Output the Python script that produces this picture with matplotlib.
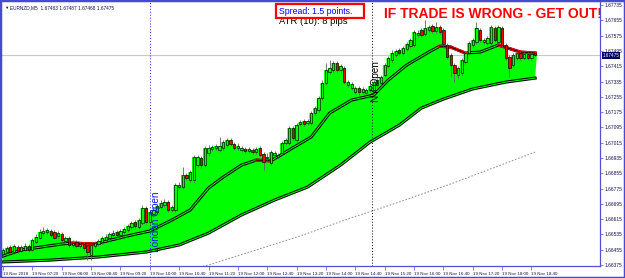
"""
EURNZD M5 chart with MA channel fill, session lines and notes.
"""

import matplotlib.pyplot as plt
import numpy as np
from matplotlib.patches import Rectangle

plt.rcParams['font.family'] = ['Liberation Sans', 'DejaVu Sans']

# Candle data (M5 bars from 06:40 to 18:45)
# ----------------------------------------------------------------------------

opens = [
    1.66433, 1.66443, 1.66469, 1.66443, 1.66469, 1.66448, 1.66454, 1.66474, 1.66454, 1.66495,
    1.66516, 1.66542, 1.66548, 1.66553, 1.66548, 1.66527, 1.66537, 1.66501, 1.66516, 1.66480,
    1.66495, 1.66474, 1.66485, 1.66480, 1.66427, 1.66474, 1.66485, 1.66495, 1.66506, 1.66516,
    1.66532, 1.66548, 1.66532, 1.66548, 1.66558, 1.66574, 1.66600, 1.66574, 1.66595, 1.66673,
    1.66600, 1.66642, 1.66652, 1.66678, 1.66689, 1.66705, 1.66663, 1.66663, 1.66783, 1.66783,
    1.66846, 1.66820, 1.66820, 1.66898, 1.66935, 1.66898, 1.66961, 1.66982, 1.66987, 1.66977,
    1.66987, 1.67003, 1.67029, 1.67008, 1.66987, 1.66977, 1.66982, 1.66971, 1.66977, 1.66966,
    1.66987, 1.66956, 1.66935, 1.66909, 1.66950, 1.66940, 1.66961, 1.67013, 1.67013, 1.67092,
    1.67029, 1.67112, 1.67128, 1.67118, 1.67118, 1.67170, 1.67186, 1.67248, 1.67327, 1.67384,
    1.67395, 1.67432, 1.67395, 1.67405, 1.67316, 1.67301, 1.67280, 1.67301, 1.67280, 1.67275,
    1.67290, 1.67290, 1.67316, 1.67327, 1.67369, 1.67416, 1.67447, 1.67473, 1.67500, 1.67484,
    1.67505, 1.67520, 1.67526, 1.67578, 1.67604, 1.67583, 1.67604, 1.67625, 1.67599, 1.67620,
    1.67604, 1.67526, 1.67473, 1.67421, 1.67369, 1.67379, 1.67437, 1.67484, 1.67526, 1.67541,
    1.67604, 1.67541, 1.67536, 1.67536, 1.67615, 1.67541, 1.67615, 1.67526, 1.67463, 1.67421,
    1.67458, 1.67484, 1.67458, 1.67479, 1.67458, 1.67483]

highs = [
    1.66464, 1.66474, 1.66480, 1.66485, 1.66480, 1.66480, 1.66490, 1.66485, 1.66516, 1.66537,
    1.66563, 1.66574, 1.66569, 1.66563, 1.66558, 1.66553, 1.66548, 1.66527, 1.66527, 1.66506,
    1.66506, 1.66495, 1.66495, 1.66490, 1.66490, 1.66501, 1.66511, 1.66527, 1.66537, 1.66548,
    1.66558, 1.66558, 1.66563, 1.66574, 1.66589, 1.66605, 1.66610, 1.66621, 1.66689, 1.66684,
    1.66663, 1.66678, 1.66694, 1.66715, 1.66720, 1.66715, 1.66689, 1.66804, 1.66809, 1.66888,
    1.66856, 1.66872, 1.66950, 1.66950, 1.66945, 1.66997, 1.67003, 1.67003, 1.67008, 1.67045,
    1.67029, 1.67039, 1.67039, 1.67018, 1.67013, 1.66997, 1.66992, 1.66992, 1.66987, 1.66992,
    1.66997, 1.66966, 1.66961, 1.66977, 1.66971, 1.66961, 1.67024, 1.67039, 1.67102, 1.67102,
    1.67118, 1.67133, 1.67139, 1.67139, 1.67180, 1.67207, 1.67259, 1.67343, 1.67432, 1.67447,
    1.67442, 1.67442, 1.67426, 1.67416, 1.67343, 1.67332, 1.67311, 1.67311, 1.67306, 1.67301,
    1.67322, 1.67343, 1.67353, 1.67369, 1.67432, 1.67468, 1.67500, 1.67505, 1.67510, 1.67520,
    1.67541, 1.67562, 1.67604, 1.67604, 1.67615, 1.67656, 1.67630, 1.67635, 1.67646, 1.67630,
    1.67615, 1.67536, 1.67484, 1.67432, 1.67416, 1.67458, 1.67494, 1.67547, 1.67562, 1.67646,
    1.67615, 1.67562, 1.67573, 1.67630, 1.67625, 1.67630, 1.67625, 1.67536, 1.67473, 1.67484,
    1.67494, 1.67494, 1.67489, 1.67489, 1.67489, 1.67487]

lows = [
    1.66422, 1.66438, 1.66433, 1.66438, 1.66438, 1.66443, 1.66448, 1.66443, 1.66448, 1.66490,
    1.66511, 1.66532, 1.66537, 1.66521, 1.66511, 1.66516, 1.66495, 1.66490, 1.66469, 1.66469,
    1.66464, 1.66464, 1.66454, 1.66401, 1.66401, 1.66464, 1.66474, 1.66485, 1.66501, 1.66506,
    1.66521, 1.66521, 1.66527, 1.66537, 1.66548, 1.66563, 1.66569, 1.66563, 1.66584, 1.66589,
    1.66589, 1.66631, 1.66642, 1.66668, 1.66678, 1.66652, 1.66652, 1.66652, 1.66773, 1.66773,
    1.66820, 1.66809, 1.66809, 1.66888, 1.66882, 1.66888, 1.66945, 1.66971, 1.66977, 1.66966,
    1.66977, 1.66992, 1.66997, 1.66977, 1.66977, 1.66966, 1.66961, 1.66961, 1.66956, 1.66956,
    1.66940, 1.66872, 1.66924, 1.66898, 1.66940, 1.66929, 1.66950, 1.67003, 1.67003, 1.67029,
    1.67018, 1.67102, 1.67102, 1.67107, 1.67107, 1.67160, 1.67175, 1.67238, 1.67316, 1.67374,
    1.67384, 1.67384, 1.67384, 1.67322, 1.67306, 1.67290, 1.67269, 1.67264, 1.67269, 1.67264,
    1.67280, 1.67280, 1.67306, 1.67316, 1.67358, 1.67405, 1.67437, 1.67463, 1.67473, 1.67473,
    1.67494, 1.67510, 1.67515, 1.67568, 1.67568, 1.67573, 1.67594, 1.67588, 1.67588, 1.67583,
    1.67520, 1.67452, 1.67358, 1.67332, 1.67353, 1.67369, 1.67426, 1.67473, 1.67515, 1.67531,
    1.67541, 1.67531, 1.67526, 1.67526, 1.67541, 1.67531, 1.67515, 1.67447, 1.67358, 1.67411,
    1.67447, 1.67447, 1.67447, 1.67447, 1.67447, 1.67468]

closes = [
    1.66454, 1.66464, 1.66443, 1.66474, 1.66448, 1.66469, 1.66474, 1.66454, 1.66506, 1.66521,
    1.66548, 1.66553, 1.66558, 1.66532, 1.66516, 1.66542, 1.66506, 1.66516, 1.66480, 1.66490,
    1.66474, 1.66485, 1.66464, 1.66443, 1.66480, 1.66490, 1.66501, 1.66516, 1.66521, 1.66537,
    1.66542, 1.66532, 1.66553, 1.66563, 1.66579, 1.66595, 1.66579, 1.66610, 1.66673, 1.66600,
    1.66652, 1.66663, 1.66684, 1.66699, 1.66705, 1.66663, 1.66678, 1.66793, 1.66793, 1.66846,
    1.66830, 1.66861, 1.66940, 1.66940, 1.66898, 1.66987, 1.66987, 1.66992, 1.66997, 1.66997,
    1.67018, 1.67029, 1.67008, 1.66987, 1.66997, 1.66987, 1.66971, 1.66982, 1.66966, 1.66982,
    1.66950, 1.66914, 1.66940, 1.66966, 1.66961, 1.66950, 1.67013, 1.67029, 1.67092, 1.67039,
    1.67107, 1.67123, 1.67112, 1.67128, 1.67170, 1.67196, 1.67248, 1.67327, 1.67395, 1.67405,
    1.67432, 1.67395, 1.67416, 1.67332, 1.67332, 1.67322, 1.67301, 1.67280, 1.67296, 1.67290,
    1.67311, 1.67332, 1.67343, 1.67358, 1.67421, 1.67458, 1.67484, 1.67494, 1.67484, 1.67510,
    1.67531, 1.67552, 1.67594, 1.67588, 1.67578, 1.67615, 1.67620, 1.67599, 1.67620, 1.67594,
    1.67531, 1.67463, 1.67421, 1.67379, 1.67405, 1.67447, 1.67484, 1.67536, 1.67552, 1.67615,
    1.67552, 1.67552, 1.67562, 1.67620, 1.67552, 1.67620, 1.67526, 1.67458, 1.67405, 1.67473,
    1.67484, 1.67458, 1.67479, 1.67458, 1.67479, 1.67475]

# Moving averages (bar index, price)
slow_ma_bar = [0, 13, 26, 39, 48, 56, 65, 74, 83, 92, 100, 108, 114, 120, 128, 137, 145]
slow_ma = [1.66391, 1.66401, 1.66417, 1.66443, 1.66480, 1.66542, 1.66637, 1.66715,
           1.66783, 1.66898, 1.67018, 1.67107, 1.67196, 1.67243, 1.67296, 1.67332, 1.67353]

fast_ma_bar = [0, 5, 16, 19, 25, 35, 40, 46, 51, 56, 60, 65, 69, 73, 78, 84, 89, 95,
               101, 105, 110, 116, 119, 122, 126, 130, 135, 141, 145]
fast_ma = [1.66422, 1.66454, 1.66485, 1.66490, 1.66485, 1.66532, 1.66553, 1.66610,
           1.66663, 1.66778, 1.66835, 1.66898, 1.66924, 1.66920, 1.66977, 1.67045,
           1.67170, 1.67238, 1.67264, 1.67343, 1.67421, 1.67489, 1.67520, 1.67515,
           1.67484, 1.67489, 1.67526, 1.67489, 1.67484]
# falling segments of the fast MA are drawn red
fast_ma_falling = [False, False, False, True, False, False, False, False, False, False,
                   False, False, True, False, False, False, False, False, False, False,
                   False, False, True, True, False, False, True, True]

long_ma_bar = [50, 56, 81, 94, 108, 122, 145]
long_ma = [1.66349, 1.66375, 1.66527, 1.66616, 1.66705, 1.66799, 1.66966]

session_bar = [40, 100.5]
session_name = ['London Open', 'NY Open']
bid_price = 1.67475

time_labels = ['19 Nov 2018', '19 Nov 07:20', '19 Nov 08:00', '19 Nov 08:40',
               '19 Nov 09:20', '19 Nov 10:00', '19 Nov 10:40', '19 Nov 11:20',
               '19 Nov 12:00', '19 Nov 12:40', '19 Nov 13:20', '19 Nov 14:00',
               '19 Nov 14:40', '19 Nov 15:20', '19 Nov 16:00', '19 Nov 16:40',
               '19 Nov 17:20', '19 Nov 18:00', '19 Nov 18:40']
price_ticks = [1.66375, 1.66455, 1.66535, 1.66615, 1.66695, 1.66775, 1.66855,
               1.66935, 1.67015, 1.67095, 1.67175, 1.67255, 1.67335, 1.67415,
               1.67495, 1.67575, 1.67655, 1.67735]

# Figure
# ----------------------------------------------------------------------------

W, H = 625, 278
frame = '#5050d0'
navy = '#10104a'


def px(x, y):
    return x / W, 1 - y / H


fig = plt.figure(figsize=(W / 100, H / 100), dpi=100)
ax = fig.add_axes([2 / W, 12 / H, 598 / W, 264 / H])
ax.set_xlim(-0.27, 162.67)
ax.set_ylim(1.66370, 1.67751)

bars = np.arange(len(opens))
o, h, l, c = (np.array(v) for v in (opens, highs, lows, closes))
top = np.maximum(o, c)

# green channel fill from body tops down to the slow MA
xs = np.repeat(bars, 2) + np.tile([-0.5, 0.5], len(bars))
ys = np.repeat(top, 2)
ax.fill(np.concatenate([xs, slow_ma_bar[::-1]]), np.concatenate([ys, slow_ma[::-1]]),
        color='#00ff00', lw=0, zorder=1)

ax.axhline(bid_price, color='#c8c8c8', lw=0.8, zorder=0.5)
ax.plot(long_ma_bar, long_ma, color='#9a9a9a', lw=0.8, ls=(0, (1.5, 1.5)), zorder=2)

ax.axvline(session_bar[0], color='#2020ff', lw=0.7, ls=(0, (1, 2)), zorder=2)
ax.axvline(session_bar[1], color='black', lw=0.7, ls=(0, (1, 2)), zorder=2)
ax.text(session_bar[0] + 1.6, 1.66444, session_name[0], rotation=90, color='#1010ff',
        fontsize=7.2, ha='center', va='bottom', zorder=6)
ax.text(session_bar[1] + 1.1, 1.67228, session_name[1], rotation=90, color='black',
        fontsize=7.2, ha='center', va='bottom', zorder=6)

# moving averages as double lines
ax.plot(slow_ma_bar, slow_ma, color='black', lw=2.2, zorder=3)
ax.plot(slow_ma_bar, slow_ma, color='#00ff00', lw=0.7, zorder=3.1)
ax.plot(fast_ma_bar, fast_ma, color='black', lw=2.2, zorder=3)
ax.plot(fast_ma_bar, fast_ma, color='#00ff00', lw=0.7, zorder=3.1)
for k, falling in enumerate(fast_ma_falling):
    if falling:
        ax.plot(fast_ma_bar[k:k + 2], fast_ma[k:k + 2], color='red', lw=2.2, zorder=3.2)
        ax.plot(fast_ma_bar[k:k + 2], fast_ma[k:k + 2], color='black', lw=0.6, zorder=3.3)

# candles
up = c >= o
ax.vlines(bars, l, h, color='#606060', lw=0.6, zorder=4)
ax.bar(bars[up], (c - o)[up], bottom=o[up], width=0.62, color='#00ff00',
       edgecolor='black', lw=0.45, zorder=5)
ax.bar(bars[~up], (o - c)[~up], bottom=c[~up], width=0.62, color='red',
       edgecolor='black', lw=0.45, zorder=5)

# axes styling
for side in ('top', 'left'):
    ax.spines[side].set_visible(False)
for side in ('right', 'bottom'):
    ax.spines[side].set_color(frame)
    ax.spines[side].set_linewidth(0.9)

ax.yaxis.tick_right()
ax.set_yticks(price_ticks)
ax.set_yticklabels([f'{v:.5f}' for v in price_ticks], fontsize=3.5, color=navy)
ax.tick_params(axis='y', length=2, width=0.5, color=frame, pad=1.5)

ax.set_xticks(range(0, 145, 8))
ax.set_xticklabels(time_labels, fontsize=3.15, color=navy, ha='left')
ax.tick_params(axis='x', length=3, width=0.5, color=frame, pad=1)

ax.text(1.004, bid_price - 0.00003, f'{bid_price:.5f}', transform=ax.get_yaxis_transform(),
        fontsize=3.3, color='white', ha='left', va='center',
        bbox=dict(facecolor='#000060', edgecolor='none', pad=0.5), zorder=7)

# notes on the chart
fig.text(*px(4, 7.5), '\u25bc', fontsize=3.2, color=navy, va='center')
fig.text(*px(10, 7.5), 'EURNZD,M5  1.67483 1.67487 1.67468 1.67475',
         fontsize=3.4, color=navy, va='center')

fig.text(*px(279, 21.5), 'ATR (10): 8 pips', fontsize=6.8, color='black',
         va='center', zorder=8)
fig.add_artist(Rectangle(px(276, 17.5), 88 / W, 13.5 / H, transform=fig.transFigure,
                         facecolor='white', edgecolor='red', lw=1.6, zorder=9))
fig.text(*px(279, 11), 'Spread: 1.5 points.', fontsize=6.3, color='#0000ff',
         va='center', zorder=10)

ax.text(*px(384, 14), 'IF TRADE IS WRONG - GET OUT!', transform=fig.transFigure,
        fontsize=10, fontweight='bold', color='#ff0000', va='center', ha='left',
        clip_on=True, zorder=8)

fig.add_artist(Rectangle((0, 0), 1, 1, transform=fig.transFigure, fill=False,
                         edgecolor='#4848d8', lw=2.5))

fig.savefig('out.png', dpi=100, facecolor='white')
